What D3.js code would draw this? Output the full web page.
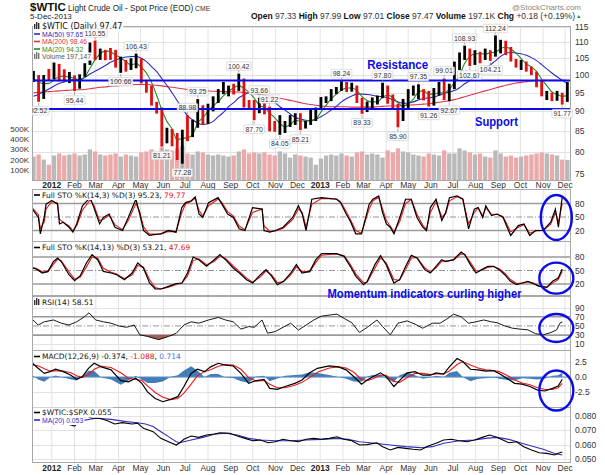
<!DOCTYPE html>
<html><head><meta charset="utf-8">
<script src="https://cdn.jsdelivr.net/npm/d3@7"></script>
<style>body{margin:0;background:#fff}svg{display:block}</style>
</head><body><svg id="c" width="605" height="475"></svg>
<script>
// ---------------- DATA ----------------
// weekly bars (Wednesday of each week, from 2011-12-07)
const priceLow   = [98.0,92.52,93.3,98.3,98.8,98.2,98.0,97.7,95.44,96.1,99.5,103.0,104.5,104.5,104.4,104.5,102.2,100.66,101.0,101.5,102.0,97.6,95.0,91.5,89.4,81.21,82.0,81.3,78.1,77.28,82.5,83.5,85.8,86.5,86.8,90.0,92.2,94.6,94.0,94.5,95.5,91.0,90.5,87.70,89.5,89.2,84.9,84.8,84.05,84.5,86.0,86.5,85.21,85.6,86.5,87.5,90.7,92.2,92.7,94.6,95.5,95.2,95.3,92.2,89.33,89.8,90.6,91.8,93.5,92.0,90.5,85.90,87.5,90.6,94.2,93.2,92.9,91.26,91.5,94.2,93.0,92.67,96.0,101.5,104.5,102.67,103.0,103.5,104.5,104.21,105.5,106.5,106.0,104.0,102.2,101.5,101.0,100.0,96.5,94.0,93.0,92.7,92.8,91.77,92.5];
const priceHigh  = [101.2,100.0,100.0,101.8,103.7,103.3,101.7,100.9,99.9,100.2,103.5,109.9,110.55,108.0,107.6,108.2,107.6,105.5,104.5,105.0,106.43,105.0,98.6,97.0,92.5,91.0,85.8,85.5,84.5,85.3,88.98,87.8,93.25,91.6,92.0,94.0,96.0,98.0,97.0,97.5,100.42,99.0,93.0,93.0,93.66,92.5,91.22,87.5,89.0,87.5,89.0,89.5,89.5,87.5,90.5,91.0,93.8,94.0,96.0,96.6,98.24,98.0,97.8,97.0,93.6,92.6,93.7,94.2,97.80,97.0,94.5,92.0,93.3,96.0,97.0,97.35,96.0,95.5,96.3,98.0,99.01,97.5,104.0,106.8,108.93,108.0,107.5,107.0,108.0,107.5,112.24,110.8,110.5,108.5,104.8,104.5,104.0,102.5,101.0,98.5,95.5,95.0,95.5,95.0,97.99];
const priceClose = [99.4,93.5,99.7,98.8,101.6,98.7,98.5,99.6,97.8,98.7,103.2,109.8,106.7,107.4,107.1,106.9,103.0,103.3,102.8,103.0,104.9,98.5,96.1,91.5,90.9,83.2,84.1,84.0,79.8,85.0,84.4,87.1,91.4,90.1,91.4,92.9,96.0,96.2,96.5,96.4,99.0,92.9,92.2,89.9,91.9,90.1,86.3,84.9,86.1,86.9,88.3,88.9,85.9,86.7,88.7,90.8,93.1,93.6,95.6,95.9,97.8,95.7,95.9,93.1,90.7,92.0,93.5,93.7,97.2,92.7,91.3,88.0,93.0,95.6,96.0,96.0,94.2,92.0,96.0,97.9,93.7,96.6,103.2,106.0,108.1,104.7,106.9,106.0,107.5,106.4,107.7,110.5,108.2,104.7,102.9,103.8,102.0,100.8,97.9,94.6,94.6,93.8,94.8,92.7,97.47];
const volumeK    = [230,250,200,150,240,260,240,250,260,240,250,300,280,250,240,250,260,230,250,240,230,270,280,300,270,320,300,290,310,330,260,250,280,270,250,240,250,240,230,240,280,300,260,270,260,270,250,240,280,260,220,250,240,230,220,150,210,240,250,240,260,240,230,270,280,250,260,250,220,290,270,310,280,270,250,240,230,260,250,240,290,260,260,310,290,270,250,260,230,220,290,260,230,240,220,230,240,250,260,270,260,250,240,200,197];
const ma20  = [99.0,98.0,97.5,97.6,98.6,99.6,99.7,99.4,99.1,98.6,99.5,102.0,104.5,106.4,107.3,107.0,106.0,105.1,104.0,103.0,103.4,102.3,100.6,97.9,94.3,90.4,87.4,85.5,82.8,83.2,83.3,84.1,87.0,88.3,90.0,91.4,92.6,94.1,95.4,96.3,97.0,96.2,95.1,93.5,91.6,91.0,89.6,88.3,86.9,86.0,86.6,87.6,87.5,87.5,87.6,88.0,89.8,91.6,93.3,94.6,95.7,96.3,96.3,95.6,93.9,92.9,92.5,92.5,93.8,94.3,93.7,92.3,91.3,92.0,93.2,95.2,95.5,94.6,94.6,95.0,94.9,96.0,97.8,99.9,103.5,105.5,106.4,106.4,106.3,106.7,106.9,108.0,108.5,107.8,106.6,104.9,103.3,102.4,101.1,98.8,97.0,95.2,94.5,94.0,94.32];
const ma50  = [94.0,94.6,95.3,96.0,96.9,97.6,98.0,98.5,98.7,98.8,99.3,100.3,101.1,101.9,102.8,103.8,104.5,105.0,105.4,105.5,105.6,105.0,104.0,102.5,101.0,99.0,97.0,95.0,92.8,90.8,88.9,87.8,87.0,86.6,86.8,87.4,88.6,89.7,91.2,92.3,93.6,94.4,94.9,94.8,94.6,94.3,93.5,92.4,91.2,90.3,89.3,88.4,88.0,87.7,87.6,87.9,88.6,89.4,90.3,91.3,92.5,93.4,94.1,94.6,94.6,94.5,94.3,94.0,93.9,93.6,93.1,92.5,92.1,92.2,92.5,93.0,93.4,93.6,93.8,94.3,94.8,95.2,95.6,96.4,97.5,98.4,99.5,100.6,101.8,103.0,104.2,105.6,106.5,106.8,106.6,106.4,105.9,105.2,104.3,103.1,101.8,100.6,99.5,98.5,97.65];
const ma200 = [95.0,95.1,95.2,95.3,95.4,95.5,95.6,95.7,95.8,95.8,95.9,96.1,96.3,96.5,96.6,96.8,96.9,97.0,97.1,97.2,97.3,97.3,97.3,97.2,97.1,96.9,96.7,96.5,96.3,96.1,95.9,95.8,95.7,95.6,95.5,95.4,95.4,95.3,95.3,95.2,95.2,95.1,95.0,94.8,94.6,94.4,94.1,93.8,93.5,93.2,92.9,92.6,92.3,92.0,91.8,91.6,91.4,91.3,91.2,91.2,91.2,91.2,91.1,91.1,91.1,91.1,91.1,91.2,91.3,91.4,91.4,91.4,91.5,91.6,91.7,91.8,91.9,92.0,92.2,92.4,92.6,92.8,93.1,93.5,93.9,94.3,94.7,95.1,95.5,95.9,96.3,96.7,97.1,97.4,97.7,97.9,98.1,98.3,98.4,98.5,98.5,98.5,98.5,98.5,98.46];
// price labels: week number (1-based) and side (a = above high, b = below low)
const annWeek = [2,9,13,18,21,26,30,31,33,41,44,45,47,49,53,61,65,69,72,76,78,81,82,85,86,90,91,104];
const annSide = ["b","b","a","b","a","b","b","a","a","a","b","a","a","b","b","a","b","a","b","a","b","a","b","a","b","b","a","b"];
const resistanceLevel = 98.4, supportLevel = 90.6;

// indicators: x = weeks since 2011-12-05
const sto1Wk = [0.1,1.25,1.62,2.37,2.74,3.86,4.97,5.35,6.09,7.21,7.96,8.70,9.82,11.31,12.05,13.17,13.91,15.03,16.15,17.64,18.75,20.24,20.99,21.73,22.85,25.08,26.57,28.06,29.18,29.92,31.04,31.80,32.53,33.27,34.39,36.25,37.00,38.11,39.23,40.35,41.48,42.96,44.83,45.20,46.32,47.43,48.92,50.78,51.90,52.64,53.39,54.51,56.37,59.35,60.10,61.21,61.95,63.07,64.19,65.68,66.42,67.54,68.29,69.03,69.78,70.53,71.64,72.76,73.88,74.99,76.11,76.85,77.60,78.72,79.83,80.58,81.32,82.81,83.93,85.05,86.16,86.91,87.80,88.40,89.51,90.63,91.76,93.25,94.74,95.84,96.96,98.09,99.58,101.05,101.96,102.55,103.30];
const sto1K = [67.6,49,12.7,49,78.5,87,78.5,34.6,38.3,27.3,16.3,34.6,75,93,71,34.6,49,56.6,27.3,20,49,89.5,56.6,20,9,12.7,20,16.3,71,82,86,94.6,56.6,49,82,93,78.5,56.6,49,23.7,20,71,67.6,20,16.3,20,27.3,49,75,56.6,20,89.5,93,89.5,82,56.6,42,12.7,12.7,78.5,89.5,96.8,60,34.6,27.3,12.7,49,89.5,89.5,49,27.3,20,71,89.5,42,60,93,96.8,89.5,23.7,67.6,71,49,75,53,56.6,49,9,31,34.6,9,20,20,38.3,67.6,27.3,95.23];
const sto1D = [70,55,25,38,68,84,81,45,38,30,20,30,65,88,76,42,45,54,33,22,42,80,62,28,12,12,18,17,60,79,85,92,65,52,75,90,82,62,52,30,22,60,68,30,18,19,25,44,68,60,28,78,91,90,84,62,46,20,14,68,86,94,68,42,30,17,40,80,89,56,32,22,60,84,50,57,86,95,90,35,60,70,53,70,56,56,51,17,27,33,14,19,20,34,60,38,79.77];
const sto2Wk = [0.1,0.9,2.0,3.1,4.2,5.0,5.7,7.2,8.3,9.4,10.6,11.7,12.8,13.9,15.4,16.5,18.0,19.5,20.6,21.7,22.9,24.0,25.1,26.6,28.1,29.2,30.3,31.4,32.5,34.0,35.5,36.6,37.7,39.2,40.4,41.8,43.0,44.5,45.6,46.7,47.8,49.0,50.4,51.5,52.6,54.1,55.3,56.4,59.3,60.8,62.0,63.1,64.6,65.3,66.8,67.9,69.0,70.5,71.6,72.8,73.9,75.0,76.5,77.6,78.7,79.8,80.6,82.1,83.6,84.3,85.4,86.5,87.6,88.8,89.9,91.0,92.1,93.2,94.4,95.5,96.6,97.7,98.8,100.3,101.4,102.5,103.3];
const sto2K = [55.6,53,44.4,48,70,77.8,70,40.7,27.4,38.5,66.7,85.2,74,48,44.4,40.7,29.6,44.4,66.7,55.6,22.2,8.9,8.9,14.8,20.7,22.2,44.4,80,74,59.3,74,85.2,74,55.6,44.4,29.6,22.2,40.7,51.9,37,18.5,25.9,44.4,63,44.4,48,74,87.4,87.4,81.5,59.3,37,18.5,25.9,63,83,63,22.2,29.6,59.3,83.7,77.8,51.9,44.4,59.3,74,70,74,91,85.2,63,44.4,51.9,59.3,59.3,51.9,40.7,25.9,18.5,22.2,25.9,20.7,14.8,12.6,25.9,33.3,53.21];
const sto2D = [57,54,47,47,64,75,72,47,31,35,58,80,77,55,46,42,32,40,61,58,30,12,9,13,19,22,38,72,76,63,70,82,77,60,48,33,24,36,49,40,23,25,40,58,48,47,68,84,87,83,64,42,23,24,55,78,67,30,28,53,78,79,56,46,56,70,71,73,87,86,68,49,50,57,59,54,44,30,21,22,25,22,16,13,22,30,47.69];
const rsiWk = [0.1,1.2,2.4,4.2,5.7,7.2,8.7,10.2,11.1,12.4,13.9,15.4,16.9,18.4,19.9,21.0,22.5,24.7,26.6,28.1,29.6,31.0,32.5,34.4,36.3,37.7,39.2,40.7,42.2,43.3,44.8,45.9,47.4,48.9,50.4,51.9,53.4,54.9,56.4,57.9,59.4,60.8,62.3,63.8,65.3,67.2,68.3,69.8,71.3,73.1,74.6,76.1,78.0,79.5,81.0,82.1,83.6,85.0,86.5,88.0,89.5,90.6,92.1,93.6,95.1,96.6,98.1,99.6,101.1,102.2,102.9,103.3];
const rsiVal = [64,52,59,63,56,52,59,70,78.6,63,59,56,50,47,52,30.6,27,20,27,34,52,59,56,63,68.6,63,59,43,48.6,47,63,34,37.8,47,56,41,52,63,71.5,73.6,75.8,66.5,57,35.6,47,63,48.6,30.6,56,61,54,45,56,56,66.5,75.8,70,56,59,63,59,57,50,45,43,41.4,33,30.6,35.6,41.4,57,58.51];
const macdWk = [0.1,1.2,2.4,3.5,4.6,6.1,7.6,8.7,9.8,11.0,12.1,13.5,15.4,17.3,18.8,20.2,21.4,22.5,24.0,25.5,27.0,28.4,29.6,31.0,32.2,33.6,34.8,36.3,37.7,39.2,40.7,42.2,43.7,45.2,46.3,47.8,49.3,51.2,52.6,54.1,55.6,57.9,59.7,61.2,62.7,64.2,65.3,66.4,67.9,69.0,70.5,71.6,73.1,74.6,76.1,77.6,78.7,80.2,81.3,82.8,83.9,85.4,86.9,88.4,89.9,91.0,92.5,94.0,95.5,97.0,98.5,99.9,101.4,102.5,103.3];
const macdVal = [2.3,1.46,0.6,0.9,1.3,0.9,0.3,-0.4,0.05,1.46,2.3,1.7,1.2,-0.6,-0.8,-0.2,-1.06,-2.5,-3.6,-4.15,-3.75,-3.3,-1.6,0.6,1.3,0.9,1.7,2.3,2.0,1.85,0.6,-1.06,-0.6,-0.4,-1.9,-2.07,-1.6,-1.06,-0.5,0.7,1.46,1.85,1.7,1.2,0.05,-1.2,-0.5,0.05,0.7,0.05,-1.6,-0.6,0.7,0.9,0.3,0.3,0.7,0.5,1.7,3.1,2.6,1.3,1.2,1.0,1.06,0.6,-0.2,-1.06,-1.2,-1.6,-2.2,-2.35,-1.9,-1.5,-0.374];
const macdSig = [2.0,1.9,1.4,1.0,1.05,1.0,0.7,0.2,-0.05,0.4,1.3,1.8,1.6,0.7,-0.2,-0.4,-0.6,-1.5,-2.6,-3.4,-3.8,-3.6,-2.7,-1.2,0.2,0.9,1.2,1.8,2.1,2.0,1.3,-0.1,-0.7,-0.6,-1.2,-1.8,-1.8,-1.4,-0.9,-0.1,0.8,1.5,1.7,1.5,0.8,-0.4,-0.6,-0.3,0.3,0.3,-0.7,-0.9,-0.1,0.6,0.6,0.4,0.5,0.5,1.0,2.1,2.6,2.0,1.5,1.2,1.1,0.9,0.3,-0.5,-1.0,-1.3,-1.8,-2.1,-2.1,-1.8,-1.088];
const macdHist = [0.3,-0.44,-0.8,-0.1,0.25,-0.1,-0.4,-0.6,0.1,1.06,1.0,-0.1,-0.4,-1.3,-0.6,0.2,-0.46,-1.0,-1.0,-0.75,0.05,0.3,1.1,1.8,1.1,0.0,0.5,0.5,-0.1,-0.15,-0.7,-0.96,0.1,0.2,-0.7,-0.27,0.2,0.34,0.4,0.8,0.66,0.35,0.0,-0.3,-0.75,-0.8,0.1,0.35,0.4,-0.25,-0.9,0.3,0.8,0.3,-0.3,-0.1,0.2,0.0,0.7,1.0,0.0,-0.7,-0.3,-0.2,-0.04,-0.3,-0.5,-0.56,-0.2,-0.3,-0.4,-0.25,0.2,0.3,0.714];
const ratioWk = [0.1,1.5,3.0,4.5,6.0,7.6,8.3,9.1,9.8,10.6,11.7,13.2,14.7,16.1,17.6,19.5,20.6,21.7,23.6,25.1,26.6,28.1,28.8,29.6,31.0,32.5,34.0,35.5,36.6,38.5,40.0,41.5,43.0,44.5,46.0,47.4,48.9,50.4,51.9,53.4,54.9,56.4,57.9,59.4,60.8,62.3,63.8,65.3,67.2,68.3,69.8,71.3,72.8,74.2,75.7,77.2,78.7,80.2,81.7,83.2,84.7,86.2,87.7,89.1,90.3,91.4,92.9,94.4,95.8,97.3,98.8,100.3,101.8,102.5,103.3];
const ratioVal = [0.0795,0.0775,0.0790,0.0775,0.0750,0.0736,0.0729,0.0759,0.0782,0.0798,0.0782,0.0782,0.0766,0.0743,0.0752,0.0743,0.0748,0.0713,0.0690,0.0644,0.0621,0.0598,0.0614,0.0638,0.0660,0.0651,0.0667,0.0674,0.0683,0.0679,0.0660,0.0644,0.0628,0.0633,0.0614,0.0621,0.0638,0.0628,0.0621,0.0638,0.0644,0.0638,0.0644,0.0655,0.0638,0.0628,0.0598,0.0601,0.0614,0.0587,0.0564,0.0582,0.0575,0.0569,0.0564,0.0591,0.0610,0.0633,0.0638,0.0628,0.0621,0.0633,0.0651,0.0667,0.0655,0.0638,0.0614,0.0621,0.0587,0.0564,0.0545,0.0541,0.0530,0.0541,0.0550];
const ratioMaWk = [0.1,3.0,6.0,9.8,12.4,15.4,18.4,20.6,22.1,23.6,25.1,26.6,28.1,28.8,31.0,33.3,35.5,37.7,40.0,42.2,44.5,47.4,50.4,53.4,56.4,59.4,61.6,63.8,66.8,69.8,72.8,75.7,78.0,80.2,83.2,86.2,88.4,90.6,92.9,95.1,97.3,99.6,101.8,103.3];
const ratioMaVal = [0.0775,0.0772,0.0768,0.0766,0.0782,0.0775,0.0759,0.0752,0.0743,0.0725,0.0690,0.0656,0.0621,0.0614,0.0633,0.0651,0.0672,0.0679,0.0667,0.0644,0.0633,0.0628,0.0628,0.0633,0.0637,0.0644,0.0637,0.0621,0.0610,0.0598,0.0587,0.0580,0.0587,0.0610,0.0628,0.0633,0.0644,0.0651,0.0637,0.0614,0.0591,0.0569,0.0540,0.0530];

// tick labels
const priceTicks = [75,80,85,90,95,100,105,110,115];
const volTicks = [100000,200000,300000,400000,500000];
const volTickLabels = ["100K","200K","300K","400K","500K"];
const stoTicks = [20,50,80];
const rsiTicks = [10,30,50,70,90];
const macdTicks = [-2.5,0,2.5];
const macdTickLabels = ["-2.5","0.0","2.5"];
const ratioTicks = [0.05,0.06,0.07,0.08];
const ratioTickLabels = ["0.050","0.060","0.070","0.080"];
const monthLabels = ["2012","Feb","Mar","Apr","May","Jun","Jul","Aug","Sep","Oct","Nov","Dec","2013","Feb","Mar","Apr","May","Jun","Jul","Aug","Sep","Oct","Nov","Dec"];

// callouts (drawn in data space)
const circleDate = "2013-11-19";
const circles = [{panel:"sto1", v:49, rx:15.5, ry:22.5},{panel:"sto2", v:33, rx:17, ry:15.5},{panel:"rsi", v:45.5, rx:17, ry:14},{panel:"macd", v:-2.27, rx:17, ry:20}];

// ---------------- DRAW ----------------
const svg = d3.select("#c");
const FONT = "'Liberation Sans', Arial, sans-serif";
const LFONT = "'DejaVu Sans', Verdana, sans-serif";
const BLUE = "#0a0aea";
const X0 = 32, X1 = 571;
const t0 = new Date(2011,11,5), t1 = new Date(2013,11,9);
const x = d3.scaleTime().domain([t0,t1]).range([X0,X1]);
const wkDate = w => new Date(t0.getTime() + w*7*864e5);
const barDate = i => d3.timeDay.offset(new Date(2011,11,7), 7*i);
const months = d3.timeMonth.range(new Date(2012,0,1), t1);

const P = {
  main:{top:26,bottom:180},
  sto1:{top:189,bottom:241},
  sto2:{top:241,bottom:295},
  rsi:{top:296,bottom:350},
  macd:{top:350,bottom:407},
  ratio:{top:407,bottom:462}
};
const yP = d3.scaleLog().domain([75,115]).range([174,27]);
const yV = d3.scaleLinear().domain([0,500000]).range([180,129]);
const ys = {
  sto1: d3.scaleLinear().domain([0,100]).range([239.5,194.5]),
  sto2: d3.scaleLinear().domain([0,100]).range([293,248]),
  rsi: d3.scaleLinear().domain([0,100]).range([348.8,303.05]),
  macd: d3.scaleLinear().domain([-2.5,2.5]).range([391.9,362.1]),
  ratio: d3.scaleLinear().domain([0.05,0.08]).range([459.3,415.7])
};

const defs = svg.append("defs");
Object.entries(P).forEach(([k,p])=>{
  defs.append("clipPath").attr("id","clip-"+k).append("rect")
    .attr("x",X0).attr("y",p.top).attr("width",X1-X0).attr("height",p.bottom-p.top);
});

function panelFrame(k, hTicks, yScale){
  const p = P[k];
  const g = svg.append("g");
  g.selectAll("line.v").data(months).join("line")
    .attr("x1",d=>x(d)).attr("x2",d=>x(d)).attr("y1",p.top).attr("y2",p.bottom)
    .attr("stroke","#e2e2e2").attr("stroke-width",1);
  if (hTicks) g.selectAll("line.h").data(hTicks).join("line")
    .attr("x1",X0).attr("x2",X1).attr("y1",d=>Math.round(yScale(d))+0.5).attr("y2",d=>Math.round(yScale(d))+0.5)
    .attr("stroke","#e2e2e2");
  return g;
}
function border(k){
  const p = P[k];
  svg.append("rect").attr("x",X0+0.5).attr("y",p.top+0.5).attr("width",X1-X0-1).attr("height",p.bottom-p.top)
    .attr("fill","none").attr("stroke","#a8a8a8").attr("stroke-width",1);
}
function rightLabels(vals, labels, yScale){
  svg.append("g").selectAll("text").data(vals).join("text")
    .attr("x",575).attr("y",d=>yScale(d)+3).text((d,i)=>labels?labels[i]:d)
    .attr("font-family",FONT).attr("font-size",8.5).attr("fill","#333");
}
function monthAxis(yBase){
  svg.append("g").selectAll("text").data(months).join("text")
    .attr("x",d=>x(d)).attr("y",yBase).attr("text-anchor","middle")
    .text((d,i)=>monthLabels[i])
    .attr("font-family",FONT).attr("font-size",8.5)
    .attr("font-weight",(d,i)=>monthLabels[i].length===4?"bold":"normal")
    .attr("fill",(d,i)=>monthLabels[i].length===4?"#222":"#333");
}
function legend(xp, yp, parts, icon, iconColor, size, fam){
  const g = svg.append("g");
  const bg = g.append("rect").attr("fill","#fff");
  const t = g.append("text").attr("x",xp+(icon?8:0)).attr("y",yp)
    .attr("font-family",fam||LFONT).attr("font-size",size||7.5);
  parts.forEach(pt=>t.append("tspan").text(pt[0]).attr("fill",pt[1]||"#111"));
  if (icon==="line") g.append("line").attr("x1",xp).attr("x2",xp+6).attr("y1",yp-2.5).attr("y2",yp-2.5).attr("stroke",iconColor).attr("stroke-width",1.6);
  if (icon==="bars"){ [0,2,4].forEach((o,i)=>g.append("rect").attr("x",xp+o).attr("y",yp-2-[3,5,4][i]).attr("width",1.4).attr("height",[3,5,4][i]+2).attr("fill",iconColor)); }
  const bb = t.node().getBBox();
  bg.attr("x",xp-1).attr("y",bb.y-0.5).attr("width",bb.x+bb.width-xp+2).attr("height",bb.height+1);
  return g;
}

// ---------- header ----------
const hdr = svg.append("text").attr("x",30).attr("y",11).attr("font-family",FONT);
hdr.append("tspan").text("$WTIC").attr("font-weight","bold").attr("font-size",11.5).attr("fill","#111");
hdr.append("tspan").text(" Light Crude Oil - Spot Price (EOD)").attr("font-size",8.2).attr("fill","#222");
hdr.append("tspan").text(" CME").attr("font-size",6.8).attr("fill","#333");
svg.append("text").attr("x",30).attr("y",19).text("5-Dec-2013").attr("font-family",FONT).attr("font-size",8).attr("fill","#222");
svg.append("text").attr("x",581).attr("y",10).attr("text-anchor","end").text("@StockCharts.com")
  .attr("font-family",FONT).attr("font-size",8).attr("fill","#888");
const ohlc = svg.append("text").attr("x",575).attr("y",19).attr("text-anchor","end").attr("font-family",FONT).attr("font-size",8.5);
[["Open",1],[" 97.33 ",0],["High",1],[" 97.99 ",0],["Low",1],[" 97.01 ",0],["Close",1],[" 97.47 ",0],["Volume",1],[" 197.1K ",0],["Chg",1],[" +0.18 (+0.19%)",0]]
  .forEach(p=>ohlc.append("tspan").text(p[0]).attr("font-weight",p[1]?"bold":"normal").attr("fill",p[1]?"#111":"#333"));
svg.append("path").attr("d","M577,18 L580.5,18 L578.75,15 Z").attr("fill","#1a9a1a");

// ---------- main panel ----------
panelFrame("main", priceTicks, yP);
const gm = svg.append("g").attr("clip-path","url(#clip-main)");
// volume
const bw = x(barDate(1)) - x(barDate(0));
gm.append("g").selectAll("rect").data(volumeK).join("rect")
  .attr("x",(d,i)=>x(barDate(i))-bw/2+0.4).attr("width",bw-0.8)
  .attr("y",d=>yV(d*1000)).attr("height",d=>yV(0)-yV(d*1000))
  .attr("fill",(d,i)=> (i>0 && priceClose[i]<priceClose[i-1]) ? "#eba9a9" : "#b9b9b9");
// MAs
function maLine(arr,color){
  gm.append("path").datum(arr).attr("fill","none").attr("stroke",color).attr("stroke-width",1.1)
    .attr("d", d3.line().x((d,i)=>x(barDate(i))).y(d=>yP(d)).curve(d3.curveMonotoneX));
}
maLine(ma200,"#e0334a");
maLine(ma50,"#2c2cc0");
maLine(ma20,"#258a25");
// price bars
gm.append("g").selectAll("rect").data(priceClose).join("rect")
  .attr("x",(d,i)=>x(barDate(i))-1.4).attr("width",2.8)
  .attr("y",(d,i)=>yP(priceHigh[i])).attr("height",(d,i)=>yP(priceLow[i])-yP(priceHigh[i]))
  .attr("fill",(d,i)=> (i>0 && d<priceClose[i-1]) ? "#e01010" : "#000");
// resistance / support
[resistanceLevel, supportLevel].forEach(v=>{
  gm.append("line").attr("x1",X0).attr("x2",X1).attr("y1",yP(v)).attr("y2",yP(v))
    .attr("stroke",BLUE).attr("stroke-width",2);
});
border("main");
rightLabels(priceTicks, null, yP);
svg.append("g").selectAll("text").data(volTicks).join("text")
  .attr("x",29).attr("y",d=>yV(d)+3).attr("text-anchor","end").text((d,i)=>volTickLabels[i])
  .attr("font-family",FONT).attr("font-size",8).attr("fill","#333");
legend(34,29,[["$WTIC (Daily) 97.47"]],"bars","#333",8);
legend(34,36.5,[["MA(50) 97.65","#2c2cc0"]],"line","#2c2cc0",6.8,FONT);
legend(34,44,[["MA(200) 98.46","#e0334a"]],"line","#e0334a",6.8,FONT);
legend(34,51.5,[["MA(20) 94.32","#258a25"]],"line","#258a25",6.8,FONT);
legend(34,59,[["Volume 197,147","#555"]],"bars","#777",6.8,FONT);
// price labels
const ga = svg.append("g");
const gaClip = ga.append("g").attr("clip-path","url(#clip-main)");
annWeek.forEach((w,k)=>{
  const i = w-1, above = annSide[k]==="a";
  const v = above ? priceHigh[i] : priceLow[i];
  const cx = x(barDate(i)), py = yP(v);
  let ty = above ? py-5 : py+11.5;
  if (ty < P.main.top + 5) ty = P.main.top + 5;
  const txt = v.toFixed(2);
  const tw = txt.length*3.55;
  const tg = (cx - tw/2 < X0) ? gaClip : ga;
  tg.append("line").attr("x1",cx).attr("x2",cx).attr("y1",py+(above?-1:1)).attr("y2",above?py-4:py+4).attr("stroke","#888").attr("stroke-width",0.7);
  tg.append("rect").attr("x",cx-tw/2-1.5).attr("y",ty-6.8).attr("width",tw+3).attr("height",8.5)
    .attr("fill","#fff").attr("fill-opacity",0.85).attr("stroke","#c8c8c8").attr("stroke-width",0.6).attr("rx",1);
  tg.append("text").attr("x",cx).attr("y",ty).attr("text-anchor","middle").text(txt)
    .attr("font-family",FONT).attr("font-size",7).attr("fill","#333");
});
// annotations text
svg.append("text").attr("x",x(new Date(2013,2,6))).attr("y",yP(103.0)+4.5).text("Resistance")
  .attr("font-family",FONT).attr("font-weight","bold").attr("font-size",13).attr("fill",BLUE)
  .attr("textLength",61).attr("lengthAdjust","spacingAndGlyphs");
svg.append("text").attr("x",x(new Date(2013,6,31))).attr("y",yP(87.3)+4.5).text("Support")
  .attr("font-family",FONT).attr("font-weight","bold").attr("font-size",13).attr("fill",BLUE)
  .attr("textLength",43).attr("lengthAdjust","spacingAndGlyphs");
monthAxis(187.5);

// ---------- oscillator helpers ----------
function osc(k, wk, vals, color, width){
  svg.append("path").datum(vals).attr("clip-path",`url(#clip-${k})`)
    .attr("fill","none").attr("stroke",color).attr("stroke-width",width)
    .attr("d", d3.line().x((d,i)=>x(wkDate(wk[i]))).y(d=>ys[k](d)));
}
function refLine(k, v, style){
  const y = ys[k](v);
  const l = svg.append("line").attr("x1",X0).attr("x2",X1).attr("y1",y).attr("y2",y);
  if (style==="thick") l.attr("stroke","#9a9a9a").attr("stroke-width",1.6);
  else if (style==="dash") l.attr("stroke","#8a8a8a").attr("stroke-width",0.9).attr("stroke-dasharray","6,2,1,2");
  else l.attr("stroke","#e2e2e2");
}
function ellipse(c){
  svg.append("ellipse").attr("cx",x(new Date(circleDate))).attr("cy",ys[c.panel](c.v))
    .attr("rx",c.rx).attr("ry",c.ry).attr("fill","none").attr("stroke",BLUE).attr("stroke-width",2.4);
}

// ---------- STO 1 ----------
panelFrame("sto1", null, null);
refLine("sto1",80,"thick"); refLine("sto1",20,"thick"); refLine("sto1",50,"dash");
osc("sto1", sto1Wk, sto1D, "#f01818", 1.1);
osc("sto1", sto1Wk, sto1K, "#000", 1.2);
border("sto1");
rightLabels(stoTicks, null, ys.sto1);
legend(34,197.5,[["Full STO %K(14,3) %D(3) 95.23, "],["79.77","#e01010"]],"line","#000",7.5);

// ---------- STO 2 ----------
panelFrame("sto2", null, null);
refLine("sto2",80,"thick"); refLine("sto2",20,"thick"); refLine("sto2",50,"dash");
osc("sto2", sto2Wk, sto2D, "#f01818", 1.1);
osc("sto2", sto2Wk, sto2K, "#000", 1.2);
border("sto2");
rightLabels(stoTicks, null, ys.sto2);
legend(34,250,[["Full STO %K(14,13) %D(3) 53.21, "],["47.69","#e01010"]],"line","#000",7.5);

// ---------- RSI ----------
panelFrame("rsi", [10,90], ys.rsi);
refLine("rsi",70,"thick"); refLine("rsi",30,"thick"); refLine("rsi",50,"dash");
svg.append("path").datum(rsiVal).attr("clip-path","url(#clip-rsi)").attr("fill","#a35a5a")
  .attr("d", d3.area().x((d,i)=>x(wkDate(rsiWk[i]))).y0(ys.rsi(30)).y1(d=>ys.rsi(Math.min(d,30))));
osc("rsi", rsiWk, rsiVal, "#000", 0.9);
border("rsi");
rightLabels(rsiTicks, null, ys.rsi);
legend(34,305,[["RSI(14) 58.51"]],"bars","#333",7.5);

// ---------- MACD ----------
panelFrame("macd", macdTicks, ys.macd);
svg.append("path").datum(macdHist).attr("clip-path","url(#clip-macd)").attr("fill","#2f6fb0").attr("fill-opacity",0.9)
  .attr("d", d3.area().x((d,i)=>x(wkDate(macdWk[i]))).y0(ys.macd(0)).y1(d=>ys.macd(d)));
svg.append("line").attr("x1",X0).attr("x2",X1).attr("y1",ys.macd(0)).attr("y2",ys.macd(0)).attr("stroke","#5a8fc8").attr("stroke-width",1);
osc("macd", macdWk, macdSig, "#f01818", 1.1);
osc("macd", macdWk, macdVal, "#000", 1.2);
border("macd");
rightLabels(macdTicks, macdTickLabels, ys.macd);
legend(34,359,[["MACD(12,26,9) -0.374, "],["-1.088","#e01010"],[", ","#111"],["0.714","#3a78d0"]],"line","#000",7.5);

// ---------- Ratio ----------
panelFrame("ratio", ratioTicks, ys.ratio);
osc("ratio", ratioMaWk, ratioMaVal, "#3030c0", 1.1);
osc("ratio", ratioWk, ratioVal, "#000", 1.1);
border("ratio");
rightLabels(ratioTicks, ratioTickLabels, ys.ratio);
legend(34,415,[["$WTIC:$SPX  0.055"]],"line","#000",7.5);
legend(34,422.5,[["MA(20) 0.053","#3030c0"]],"line","#3030c0",6.8,FONT);
monthAxis(471);

// callouts
circles.forEach(ellipse);
svg.append("text").attr("x",x(new Date(2013,0,11))).attr("y",ys.sto2(0)+4.5)
  .text("Momentum indicators curling higher")
  .attr("font-family",FONT).attr("font-weight","bold").attr("font-size",13).attr("fill",BLUE)
  .attr("textLength",194).attr("lengthAdjust","spacingAndGlyphs");
</script></body></html>
